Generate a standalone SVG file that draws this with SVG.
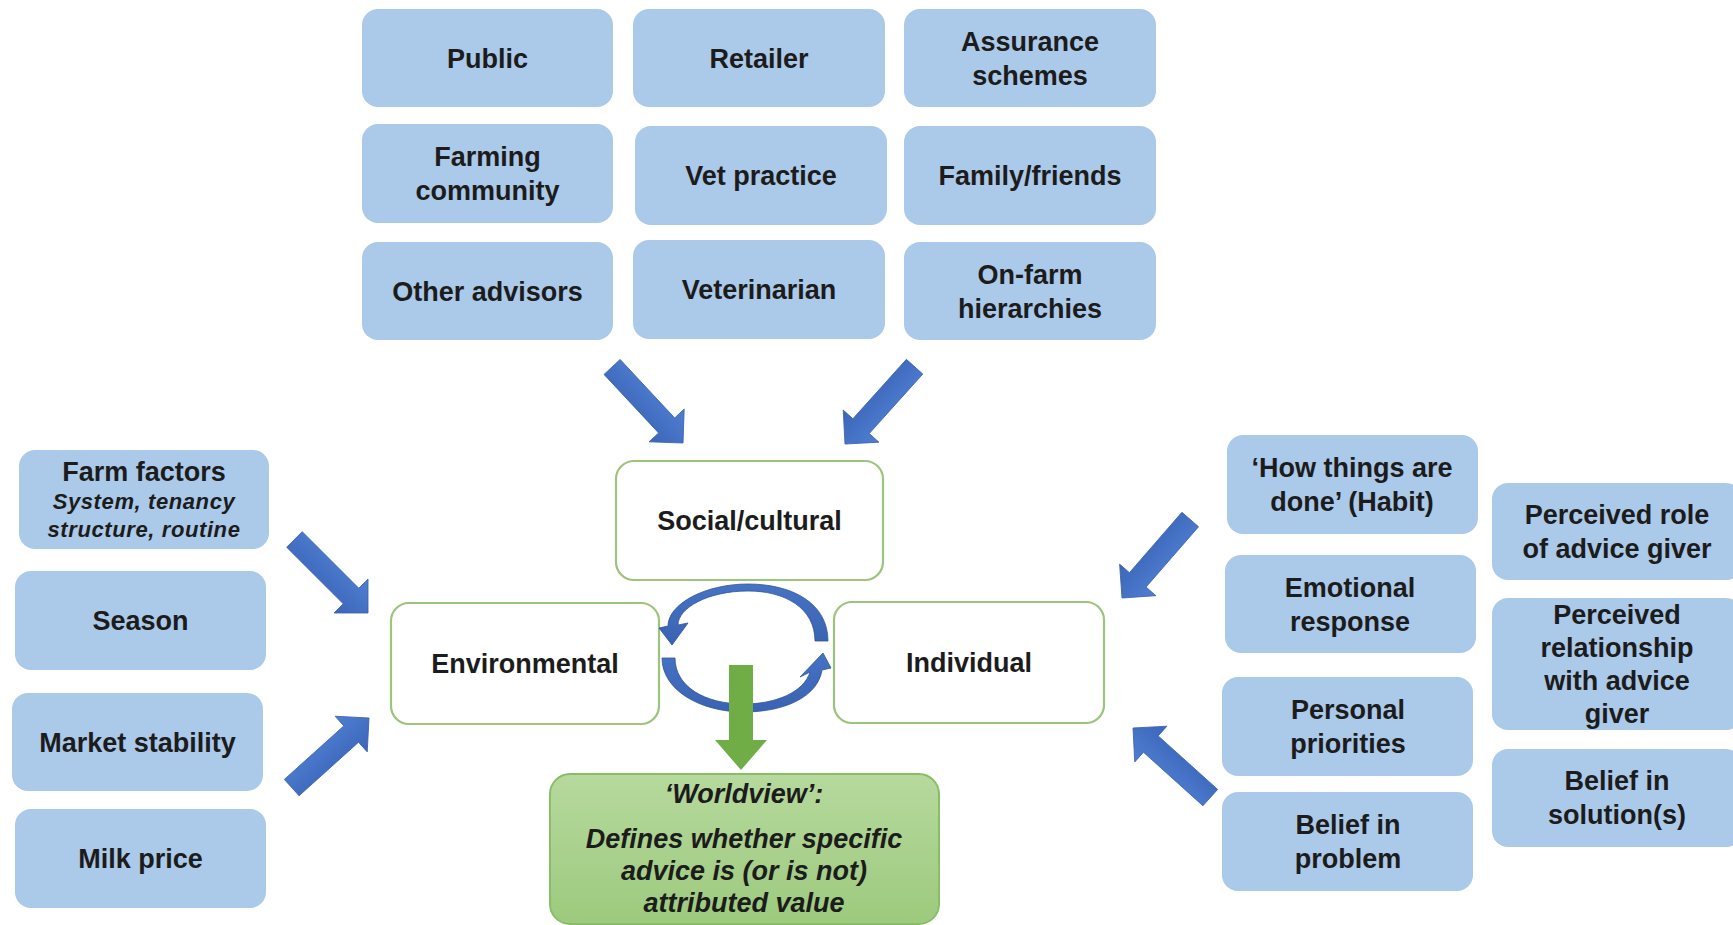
<svg xmlns="http://www.w3.org/2000/svg" width="1733" height="925" viewBox="0 0 1733 925">
  <defs>
    <style>
      .factor { fill: #abc9e9; }
      .core { fill: #ffffff; stroke: #9cc47c; stroke-width: 2.2; }
      .label { font-family: "Liberation Sans", Arial, sans-serif; font-weight: bold; font-size: 27px; fill: #1c1c1c; text-anchor: middle; }
      .sub { font-family: "Liberation Sans", Arial, sans-serif; font-weight: bold; font-style: italic; font-size: 22px; letter-spacing: 0.6px; fill: #1c1c1c; text-anchor: middle; }
      .wv { font-family: "Liberation Sans", Arial, sans-serif; font-weight: bold; font-style: italic; font-size: 27px; fill: #1c1c1c; text-anchor: middle; }
      .push { fill: url(#blueGrad); stroke: #3a62b0; stroke-width: 0.8; }
      .cycle { fill: url(#cycleGrad); stroke: #2f5597; stroke-width: 0.8; }
    </style>
    <linearGradient id="blueGrad" x1="0" y1="0" x2="0" y2="1">
      <stop offset="0" stop-color="#4f7fd2"/>
      <stop offset="1" stop-color="#3b65b8"/>
    </linearGradient>
    <linearGradient id="cycleGrad" x1="0" y1="0" x2="0" y2="1">
      <stop offset="0" stop-color="#4673c4"/>
      <stop offset="1" stop-color="#3a62b2"/>
    </linearGradient>
    <linearGradient id="greenGrad" x1="0" y1="0" x2="0" y2="1">
      <stop offset="0" stop-color="#b6d99d"/>
      <stop offset="1" stop-color="#9dca7e"/>
    </linearGradient>
    <!-- block arrow pointing along +x with its tip at the origin -->
    <polygon id="blockArrow" points="-104,-11 -24,-11 -24,-24 0,0 -24,24 -24,11 -104,11"/>
  </defs>

  <rect width="1733" height="925" fill="#ffffff"/>

  <!-- top grid: social influences -->
  <g id="public"><rect class="factor" x="362" y="9" width="251" height="98" rx="16"/><text class="label" x="487.5" y="67.5">Public</text></g>
  <g id="retailer"><rect class="factor" x="633" y="9" width="252" height="98" rx="16"/><text class="label" x="759" y="67.5">Retailer</text></g>
  <g id="assurance"><rect class="factor" x="904" y="9" width="252" height="98" rx="16"/><text class="label" x="1030" y="50.5">Assurance</text><text class="label" x="1030" y="84.5">schemes</text></g>
  <g id="farming-community"><rect class="factor" x="362" y="124" width="251" height="99" rx="16"/><text class="label" x="487.5" y="166">Farming</text><text class="label" x="487.5" y="200">community</text></g>
  <g id="vet-practice"><rect class="factor" x="635" y="126" width="252" height="99" rx="16"/><text class="label" x="761" y="185">Vet practice</text></g>
  <g id="family-friends"><rect class="factor" x="904" y="126" width="252" height="99" rx="16"/><text class="label" x="1030" y="185">Family/friends</text></g>
  <g id="other-advisors"><rect class="factor" x="362" y="242" width="251" height="98" rx="16"/><text class="label" x="487.5" y="300.5">Other advisors</text></g>
  <g id="veterinarian"><rect class="factor" x="633" y="240" width="252" height="99" rx="16"/><text class="label" x="759" y="299">Veterinarian</text></g>
  <g id="on-farm"><rect class="factor" x="904" y="242" width="252" height="98" rx="16"/><text class="label" x="1030" y="284">On-farm</text><text class="label" x="1030" y="318">hierarchies</text></g>

  <!-- left column: environmental factors -->
  <g id="farm-factors"><rect class="factor" x="19" y="450" width="250" height="99" rx="16"/><text class="label" x="144" y="481">Farm factors</text><text class="sub" x="144" y="509">System, tenancy</text><text class="sub" x="144" y="537">structure, routine</text></g>
  <g id="season"><rect class="factor" x="15" y="571" width="251" height="99" rx="16"/><text class="label" x="140.5" y="630">Season</text></g>
  <g id="market-stability"><rect class="factor" x="12" y="693" width="251" height="98" rx="16"/><text class="label" x="137.5" y="751.5">Market stability</text></g>
  <g id="milk-price"><rect class="factor" x="15" y="809" width="251" height="99" rx="16"/><text class="label" x="140.5" y="868">Milk price</text></g>

  <!-- right columns: individual factors -->
  <g id="habit"><rect class="factor" x="1227" y="435" width="251" height="99" rx="16"/><text class="label" x="1352" y="477">‘How things are</text><text class="label" x="1352" y="511">done’ (Habit)</text></g>
  <g id="emotional"><rect class="factor" x="1225" y="555" width="251" height="98" rx="16"/><text class="label" x="1350" y="596.5">Emotional</text><text class="label" x="1350" y="630.5">response</text></g>
  <g id="personal"><rect class="factor" x="1222" y="677" width="251" height="99" rx="16"/><text class="label" x="1348" y="719">Personal</text><text class="label" x="1348" y="753">priorities</text></g>
  <g id="belief-problem"><rect class="factor" x="1222" y="792" width="251" height="99" rx="16"/><text class="label" x="1348" y="834">Belief in</text><text class="label" x="1348" y="868">problem</text></g>
  <g id="perceived-role"><rect class="factor" x="1492" y="483" width="250" height="97" rx="16"/><text class="label" x="1617" y="524">Perceived role</text><text class="label" x="1617" y="558">of advice giver</text></g>
  <g id="perceived-relationship"><rect class="factor" x="1492" y="598" width="250" height="132" rx="16"/><text class="label" x="1617" y="624">Perceived</text><text class="label" x="1617" y="657">relationship</text><text class="label" x="1617" y="690">with advice</text><text class="label" x="1617" y="723">giver</text></g>
  <g id="belief-solution"><rect class="factor" x="1492" y="749" width="250" height="98" rx="16"/><text class="label" x="1617" y="790">Belief in</text><text class="label" x="1617" y="824">solution(s)</text></g>

  <!-- core domains -->
  <g id="social-cultural"><rect class="core" x="616" y="461" width="267" height="119" rx="18"/><text class="label" x="749.5" y="530">Social/cultural</text></g>
  <g id="environmental"><rect class="core" x="391" y="603" width="268" height="121" rx="18"/><text class="label" x="525" y="673">Environmental</text></g>
  <g id="individual"><rect class="core" x="834" y="602" width="270" height="121" rx="18"/><text class="label" x="969" y="672">Individual</text></g>

  <!-- outcome -->
  <g id="worldview"><rect x="550" y="774" width="389" height="150" rx="20" fill="url(#greenGrad)" stroke="#8bbd66" stroke-width="2"/>
    <text class="wv" x="744" y="803">‘Worldview’:</text>
    <text class="wv" x="744" y="848">Defines whether specific</text>
    <text class="wv" x="744" y="880">advice is (or is not)</text>
    <text class="wv" x="744" y="912">attributed value</text>
  </g>

  <!-- connectors -->
  <g id="connectors">
    <use href="#blockArrow" class="push" transform="translate(683,443) rotate(47)"/>
    <use href="#blockArrow" class="push" transform="translate(845,444) rotate(132)"/>
    <use href="#blockArrow" class="push" transform="translate(368,613) rotate(45)"/>
    <use href="#blockArrow" class="push" transform="translate(369,718) rotate(-42)"/>
    <use href="#blockArrow" class="push" transform="translate(1122,598) rotate(131)"/>
    <use href="#blockArrow" class="push" transform="translate(1133,728) rotate(-138)"/>
    <!-- interaction cycle between domains -->
    <path class="cycle" d="M 828 641 C 828 603 792 584 748 584 C 705 584 668 604 668 626 L 659 628 L 672 645 L 688 623 L 678 625 C 678 608 708 591 748 591 C 785 591 815 608 815 641 Z"/>
    <path class="cycle" d="M 662 658 C 662 690 700 712 744 712 C 786 712 818 696 822 670 L 831 668 L 823 653 L 800 677 L 810 672 C 804 692 776 704 744 704 C 704 704 675 686 675 658 Z"/>
    <!-- output arrow to worldview -->
    <polygon fill="#70ad47" points="729,665 753,665 753,740 767,740 741,770 715,740 729,740"/>
  </g>
</svg>
